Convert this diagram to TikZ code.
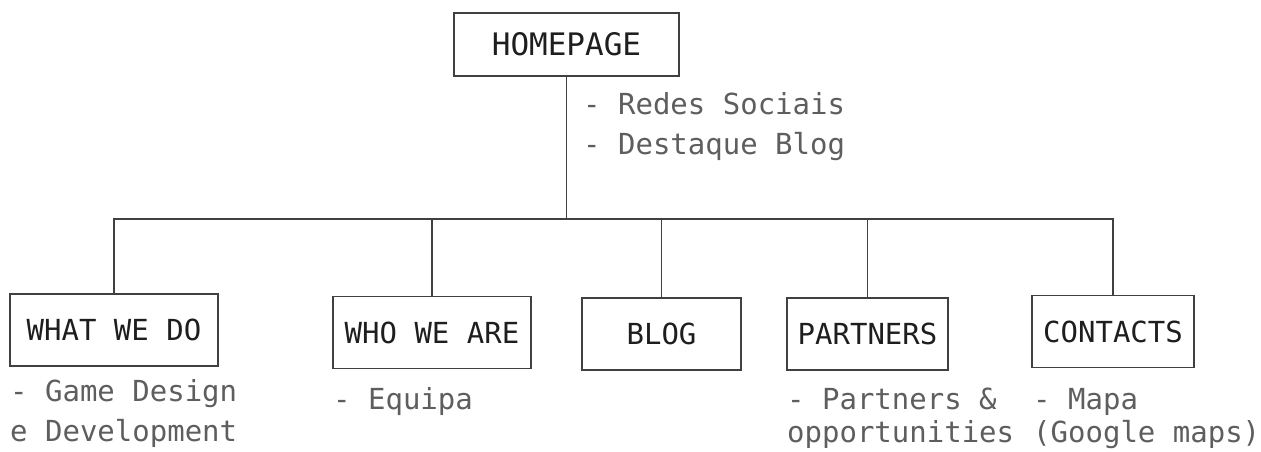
\documentclass[tikz,border=0pt]{standalone}
\usepackage{fontspec}
\setmonofont{DejaVu Sans Mono}
\definecolor{linegray}{HTML}{404040}
\definecolor{notegray}{HTML}{5E5E5E}
\definecolor{ink}{HTML}{1E1E1E}

\begin{document}
\begin{tikzpicture}[x=1pt,y=-1pt,
  page/.style={draw=linegray, line width=1.4pt, minimum height=72pt, text=ink,
    font=\ttfamily\fontsize{29}{34}\selectfont},
  note/.style={anchor=north west, inner sep=0pt, align=left, text=notegray,
    font=\ttfamily\fontsize{29}{40}\selectfont},
  link/.style={draw=linegray, line width=1.4pt}]
\useasboundingbox (0,0) rectangle (1261,452);

% pages
\node[page, minimum width=225pt, minimum height=63pt, font=\ttfamily\fontsize{31}{36}\selectfont] (home) at (566.5,44.5) {HOMEPAGE};
\node[page, minimum width=208pt] (what) at (114,330) {WHAT WE DO};
\node[page, minimum width=198pt] (who) at (432,332.5) {WHO WE ARE};
\node[page, minimum width=159pt] (blog) at (661.5,334) {BLOG};
\node[page, minimum width=161pt] (partners) at (867.5,334) {PARTNERS};
\node[page, minimum width=162pt] (contacts) at (1113,331.5) {CONTACTS};

% contents of each page
\node[note] (homenote) at (583,92) {- Redes Sociais\\- Destaque Blog};
\node[note] (whatnote) at (10,379) {- Game Design\\e Development};
\node[note] (whonote) at (333,387) {- Equipa};
\node[note, font=\ttfamily\fontsize{29}{33}\selectfont] (partnersnote) at (787,388) {- Partners \&\\opportunities};
\node[note, font=\ttfamily\fontsize{29}{33}\selectfont] (contactsnote) at (1033,388) {- Mapa\\(Google maps)};

% tree
\coordinate (hub) at (566.5,219);
\draw[link] (home.south) -- (hub);
\draw[link] (what.north) |- (hub) -| (contacts.north);
\foreach \n in {who,blog,partners}
  \draw[link] (\n.north) -- (\n.north |- hub);
\end{tikzpicture}
\end{document}
